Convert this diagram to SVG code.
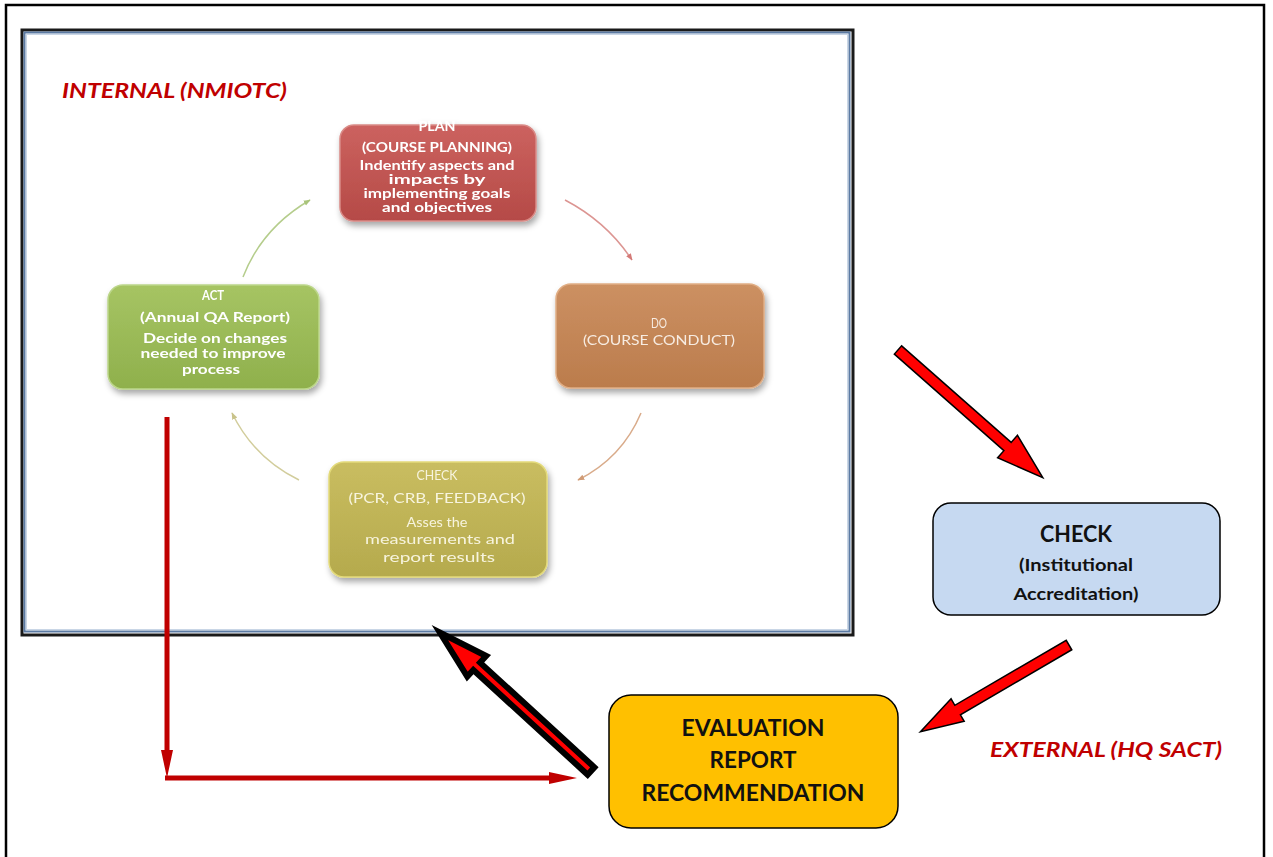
<svg xmlns="http://www.w3.org/2000/svg" width="1273" height="857" viewBox="0 0 1273 857">
<style>
.nt{font-family:Lato,"Open Sans","Liberation Sans",sans-serif;font-size:13px;text-anchor:middle}
.b{font-weight:bold}
.big{font-family:Lato,"Open Sans","Liberation Sans",sans-serif;font-weight:bold;text-anchor:middle;fill:#111}
.lbl{font-family:Lato,"Open Sans","Liberation Sans",sans-serif;font-weight:bold;font-style:italic;font-size:21px;fill:#c00000}
.cyc{fill:none;stroke-width:1.5}
.redl{fill:none;stroke:#c00000;stroke-width:5}
.blk{fill:#ff0000;stroke:#000;stroke-linejoin:miter}
</style>
<defs>
<filter id="sh" x="-10%" y="-10%" width="125%" height="135%">
<feDropShadow dx="2" dy="4" stdDeviation="3" flood-color="#000" flood-opacity="0.35"/>
</filter>
<linearGradient id="gPlan" x1="0" y1="0" x2="0" y2="1"><stop offset="0" stop-color="#cc625f"/><stop offset="1" stop-color="#b54a47"/></linearGradient>
<linearGradient id="gAct" x1="0" y1="0" x2="0" y2="1"><stop offset="0" stop-color="#a6c463"/><stop offset="1" stop-color="#8fb04c"/></linearGradient>
<linearGradient id="gDo" x1="0" y1="0" x2="0" y2="1"><stop offset="0" stop-color="#cc9062"/><stop offset="1" stop-color="#bb7c4c"/></linearGradient>
<linearGradient id="gChk" x1="0" y1="0" x2="0" y2="1"><stop offset="0" stop-color="#c9bd60"/><stop offset="1" stop-color="#b5aa4d"/></linearGradient>
<marker id="hG" viewBox="0 0 10 10" refX="9" refY="5" markerWidth="7" markerHeight="7" markerUnits="userSpaceOnUse" orient="auto"><path d="M0,1 L10,5 L0,9 z" fill="#a9c47a"/></marker>
<marker id="hR" viewBox="0 0 10 10" refX="9" refY="5" markerWidth="7" markerHeight="7" markerUnits="userSpaceOnUse" orient="auto"><path d="M0,1 L10,5 L0,9 z" fill="#d47a77"/></marker>
<marker id="hO" viewBox="0 0 10 10" refX="9" refY="5" markerWidth="7" markerHeight="7" markerUnits="userSpaceOnUse" orient="auto"><path d="M0,1 L10,5 L0,9 z" fill="#d19c76"/></marker>
<marker id="hY" viewBox="0 0 10 10" refX="9" refY="5" markerWidth="7" markerHeight="7" markerUnits="userSpaceOnUse" orient="auto"><path d="M0,1 L10,5 L0,9 z" fill="#c9c38a"/></marker>
<marker id="redHead" viewBox="0 0 28 12" refX="0" refY="6" markerWidth="28" markerHeight="12" markerUnits="userSpaceOnUse" orient="auto"><path d="M0,0 L28,6 L0,12 z" fill="#c00000"/></marker>
</defs>

<rect x="0" y="0" width="1273" height="857" fill="#fff"/>
<rect id="outer-frame" x="6" y="5" width="1258" height="880" fill="none" stroke="#000" stroke-width="2.5"/>

<g id="picture-frame">
<rect x="22" y="30" width="831" height="605" fill="#fff" stroke="#1a1a1a" stroke-width="3"/>
<rect x="24.5" y="32.5" width="825" height="599" fill="none" stroke="#5b7aa3" stroke-width="2"/>
<rect x="26.5" y="34.5" width="821" height="595" fill="none" stroke="#c9d6e6" stroke-width="1"/>
</g>

<text id="internal-label" class="lbl" x="62" y="98" textLength="225" lengthAdjust="spacingAndGlyphs">INTERNAL (NMIOTC)</text>

<g id="connectors">
<path class="cyc" stroke="#b5cd8c" d="M243,277 Q262,228 310,200" marker-end="url(#hG)"/>
<path class="cyc" stroke="#dc9592" d="M565,200 Q607,222 632,260" marker-end="url(#hR)"/>
<path class="cyc" stroke="#d9ab8a" d="M641,413 Q622,458 578,480" marker-end="url(#hO)"/>
<path class="cyc" stroke="#d2cd9c" d="M299,480 Q254,458 232,413" marker-end="url(#hY)"/>
<path class="redl" d="M167,417 V750" marker-end="url(#redHead)"/>
<path class="redl" d="M165,778 H549" marker-end="url(#redHead)"/>
<polygon class="blk" stroke-width="1.5" transform="translate(898,350) rotate(41.4)" points="0,-5.5 146,-5.5 146,-15 193,0 146,15 146,5.5 0,5.5"/>
<polygon class="blk" stroke-width="1.5" transform="translate(1069,645) rotate(149.7)" points="0,-5.5 129,-5.5 129,-13 172,0 129,13 129,5.5 0,5.5"/>
<polygon class="blk" stroke-width="6" transform="translate(591,771) rotate(-137.5)" points="0,-5 155,-5 155,-14 205,0 155,14 155,5 0,5"/>
</g>

<g id="node-plan" filter="url(#sh)">
<rect x="340" y="125" width="196" height="96" rx="14" fill="url(#gPlan)" stroke="#d98a86" stroke-width="1.5"/>
<g class="nt b" fill="#fff">
<text x="437" y="131" textLength="37" lengthAdjust="spacingAndGlyphs">PLAN</text>
<text x="437" y="152" textLength="150" lengthAdjust="spacingAndGlyphs">(COURSE PLANNING)</text>
<text x="437" y="170" textLength="155" lengthAdjust="spacingAndGlyphs">Indentify aspects and</text>
<text x="437" y="184" textLength="97" lengthAdjust="spacingAndGlyphs">impacts by</text>
<text x="437" y="198" textLength="147" lengthAdjust="spacingAndGlyphs">implementing goals</text>
<text x="437" y="212" textLength="110" lengthAdjust="spacingAndGlyphs">and objectives</text>
</g>
</g>

<g id="node-do" filter="url(#sh)">
<rect x="556" y="284" width="208" height="104" rx="15" fill="url(#gDo)" stroke="#e0ad84" stroke-width="1.5"/>
<g class="nt" fill="#f7ece2">
<text x="659" y="328" textLength="16" lengthAdjust="spacingAndGlyphs">DO</text>
<text x="659" y="345" textLength="152" lengthAdjust="spacingAndGlyphs">(COURSE CONDUCT)</text>
</g>
</g>

<g id="node-check-internal" filter="url(#sh)">
<rect x="329" y="462" width="218" height="115" rx="15" fill="url(#gChk)" stroke="#e3da7a" stroke-width="1.5"/>
<g class="nt" fill="#f7f4de">
<text x="437" y="480" textLength="41" lengthAdjust="spacingAndGlyphs">CHECK</text>
<text x="437" y="503" textLength="177" lengthAdjust="spacingAndGlyphs">(PCR, CRB, FEEDBACK)</text>
<text x="437" y="527" textLength="61" lengthAdjust="spacingAndGlyphs">Asses the</text>
<text x="440" y="544" textLength="150" lengthAdjust="spacingAndGlyphs">measurements and</text>
<text x="439" y="562" textLength="112" lengthAdjust="spacingAndGlyphs">report results</text>
</g>
</g>

<g id="node-act" filter="url(#sh)">
<rect x="108" y="285" width="211" height="104" rx="15" fill="url(#gAct)" stroke="#bcd68a" stroke-width="1.5"/>
<g class="nt b" fill="#fff">
<text x="213" y="300" textLength="22" lengthAdjust="spacingAndGlyphs">ACT</text>
<text x="215" y="322" textLength="150" lengthAdjust="spacingAndGlyphs">(Annual QA Report)</text>
<text x="215" y="343" textLength="144" lengthAdjust="spacingAndGlyphs">Decide on changes</text>
<text x="213" y="358" textLength="145" lengthAdjust="spacingAndGlyphs">needed to improve</text>
<text x="211" y="374" textLength="58" lengthAdjust="spacingAndGlyphs">process</text>
</g>
</g>

<g id="node-check-external">
<rect x="933" y="503" width="287" height="112" rx="18" fill="#c6d9f1" stroke="#000" stroke-width="1.5"/>
<text class="big" x="1076" y="542" font-size="22" textLength="72" lengthAdjust="spacingAndGlyphs">CHECK</text>
<text class="big" x="1076" y="571" font-size="17" textLength="114" lengthAdjust="spacingAndGlyphs">(Institutional</text>
<text class="big" x="1076" y="600" font-size="17" textLength="125" lengthAdjust="spacingAndGlyphs">Accreditation)</text>
</g>

<g id="node-evaluation">
<rect x="609" y="695" width="289" height="133" rx="22" fill="#ffc000" stroke="#000" stroke-width="1.5"/>
<text class="big" x="753" y="736" font-size="22" textLength="143" lengthAdjust="spacingAndGlyphs">EVALUATION</text>
<text class="big" x="753" y="768" font-size="22" textLength="87" lengthAdjust="spacingAndGlyphs">REPORT</text>
<text class="big" x="753" y="801" font-size="22" textLength="223" lengthAdjust="spacingAndGlyphs">RECOMMENDATION</text>
</g>

<text id="external-label" class="lbl" x="990" y="757" textLength="232" lengthAdjust="spacingAndGlyphs">EXTERNAL (HQ SACT)</text>
</svg>
